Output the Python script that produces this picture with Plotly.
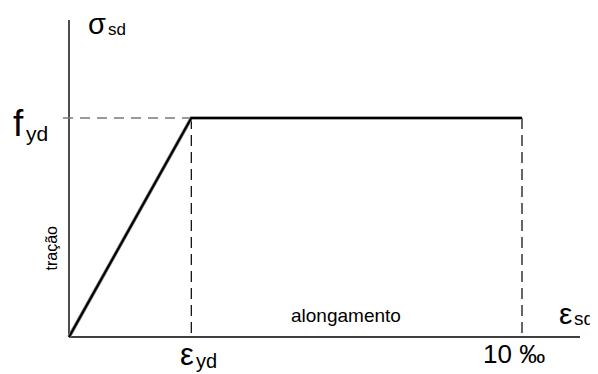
"""Diagrama tensão-deformação de cálculo do aço (tração)."""

import plotly.graph_objects as go

# dados do diagrama (deformação em ‰, tensão normalizada por fyd)
eps_points = [0.0, 2.7, 10.0]
sigma_points = [0.0, 1.0, 1.0]
eps_yd = eps_points[1]
eps_u = eps_points[2]
fyd = sigma_points[1]

W, H = 598, 374
PAGE_MARGIN = 8  # margem padrão do <body> na página gerada
# escala em pixels por unidade
SX = 45.3
SY = 219.0
X0_PX, Y0_PX = 69, 337


def px(x_px):
    return (x_px - X0_PX) / SX


def py(y_px):
    return (Y0_PX - y_px) / SY


fig = go.Figure()

black = "#000000"
gray = "#7a7a7a"

# eixos
fig.add_trace(go.Scatter(x=[0, 0], y=[0, py(20)], mode="lines",
                         line=dict(color=black, width=1.4), hoverinfo="skip"))
fig.add_trace(go.Scatter(x=[0, px(580)], y=[0, 0], mode="lines",
                         line=dict(color=black, width=1.4), hoverinfo="skip"))

# linhas de chamada tracejadas
fig.add_trace(go.Scatter(x=[px(63), eps_yd], y=[fyd, fyd], mode="lines",
                         line=dict(color=gray, width=1.4, dash="10px,7px"),
                         hoverinfo="skip"))
for xv in (eps_yd, eps_u):
    fig.add_trace(go.Scatter(x=[xv, xv], y=[fyd, 0], mode="lines",
                             line=dict(color=black, width=1.2, dash="11px,6px"),
                             hoverinfo="skip"))

# diagrama
fig.add_trace(go.Scatter(x=eps_points, y=sigma_points, mode="lines",
                         line=dict(color="#8a8a8a", width=3.6), hoverinfo="skip"))
fig.add_trace(go.Scatter(x=eps_points, y=sigma_points, mode="lines",
                         line=dict(color=black, width=2.2), hoverinfo="skip"))

FONT = "Liberation Sans, Arial, sans-serif"


def label(text, x, y, size, xanchor="left", angle=0):
    fig.add_annotation(x=x, y=y, text=text, showarrow=False, xanchor=xanchor,
                       yanchor="middle", textangle=angle,
                       font=dict(family=FONT, size=size, color=black))


label("σ", px(108), py(24), 29, xanchor="right")
label("sd", px(106), py(29), 17)
label("f", px(11), py(123), 37)
label("yd", px(24), py(133), 21)
label("ε", px(196), py(354), 31, xanchor="right")
label("yd", px(194), py(361), 20)
label("ε", px(557), py(313), 30)
label("sd", px(572), py(318), 19)
label("10 ‰", px(513.5), py(353.5), 26, xanchor="center")
label("alongamento", px(345.5), py(315), 19, xanchor="center")
label("tração", px(50.5), py(248), 16, xanchor="center", angle=-90)

fig.update_layout(
    width=W,
    height=H,
    margin=dict(l=0, r=0, t=0, b=0),
    paper_bgcolor="white",
    plot_bgcolor="white",
    showlegend=False,
    xaxis=dict(range=[px(PAGE_MARGIN), px(PAGE_MARGIN + W)],
               visible=False, fixedrange=True),
    yaxis=dict(range=[py(PAGE_MARGIN + H), py(PAGE_MARGIN)],
               visible=False, fixedrange=True),
)

fig.write_html("out.html")
